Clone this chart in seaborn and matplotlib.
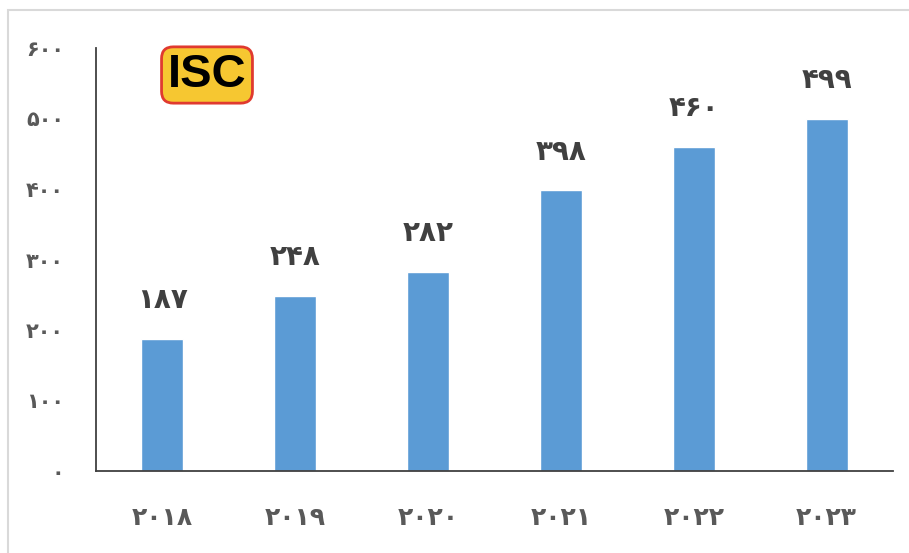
import matplotlib
matplotlib.use("Agg")
import matplotlib.pyplot as plt
import seaborn as sns
from matplotlib.patches import Rectangle

# داده‌ها
years = ["2018", "2019", "2020", "2021", "2022", "2023"]
values = [187, 248, 282, 398, 460, 499]
y_ticks = [0, 100, 200, 300, 400, 500, 600]

FA_DIGITS = str.maketrans("0123456789", "۰۱۲۳۴۵۶۷۸۹")


def fa(x):
    return str(x).translate(FA_DIGITS)


sns.set_theme(style="white")
plt.rcParams["font.family"] = ["DejaVu Sans"]

fig = plt.figure(figsize=(9.09, 5.53), dpi=100)
ax = fig.add_axes([96 / 909, 1 - 471 / 553, (893 - 96) / 909, (471 - 48) / 553])

sns.barplot(x=years, y=values, color="#5B9BD5", width=0.315, saturation=1, ax=ax)

ax.set_ylim(0, 600)
ax.set_xlim(-0.5, 5.5)
ax.set_yticks(y_ticks)
ax.set_yticklabels([fa(t) for t in y_ticks], fontsize=15, color="#595959", fontweight="bold")
ax.set_xticks(range(len(years)))
ax.set_xticklabels([fa(y) for y in years], fontsize=18, color="#595959", fontweight="bold")
ax.tick_params(axis="y", length=0, pad=23)
ax.tick_params(axis="x", length=0, pad=25)
ax.set_xlabel("")
ax.set_ylabel("")

for s in ["top", "right"]:
    ax.spines[s].set_visible(False)
for s in ["left", "bottom"]:
    ax.spines[s].set_color("#404040")
    ax.spines[s].set_linewidth(1.3)

# برچسب مقادیر
for i, v in enumerate(values):
    ax.annotate(fa(v), (i, v), xytext=(0, 28), textcoords="offset points",
                ha="center", va="center", fontsize=20, fontweight="bold", color="#404040")

# قاب بیرونی
fig.patches.append(Rectangle((8 / 909, -0.1), 1.2, 1 - 10 / 553 + 0.1, transform=fig.transFigure,
                             fill=False, edgecolor="#D9D9D9", linewidth=1.5))

# لوگو
fig.text(207 / 909, 1 - 75 / 553, "ISC", ha="center", va="center", fontsize=34,
         fontweight="black", color="black", family="Liberation Sans",
         bbox=dict(boxstyle="round,pad=0.13,rounding_size=0.25", facecolor="#F6C731",
                   edgecolor="#E03A2F", linewidth=2))

fig.savefig("out.png", dpi=100)
